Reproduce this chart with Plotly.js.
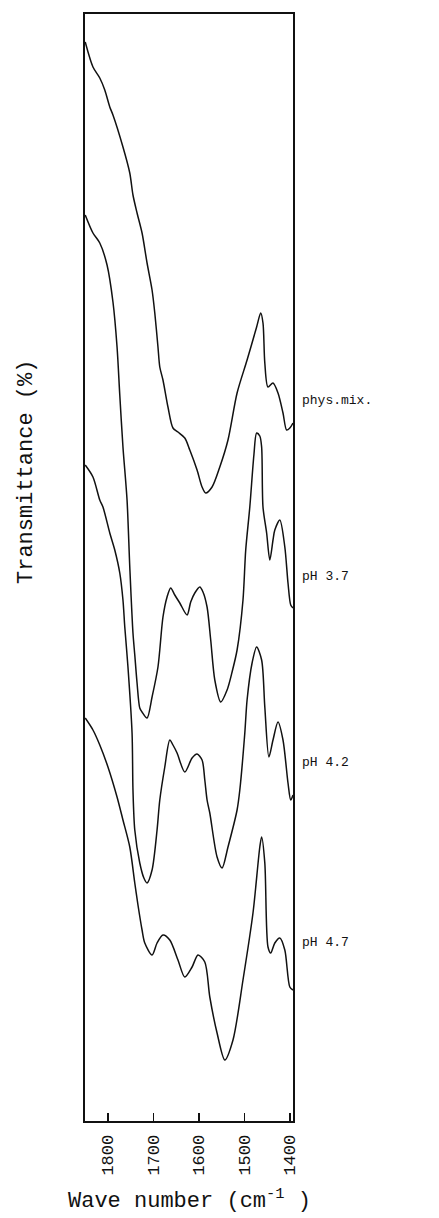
<!DOCTYPE html>
<html>
<head>
<meta charset="utf-8">
<script src="https://cdn.plot.ly/plotly-3.0.1.min.js"></script>
<style>html,body{margin:0;padding:0;background:#fff;}#chart{width:439px;height:1218px;}</style>
</head>
<body>
<div id="chart"></div>
<script>
// Wave numbers (cm^-1) and transmittance (arbitrary offset units)
const physWn = [1850,1833,1818,1807,1796,1789,1767,1752,1745,1736,1725,1714,1703,1697,1690,1686,1679,1668,1657,1646,1631,1620,1604,1593,1585,1571,1554,1536,1516,1494,1473,1464,1459,1455,1448,1437,1426,1415,1407,1400,1393];
const physT  = [107.9,105.4,104.3,103.1,101.4,100.6,97.4,94.8,92.6,90.8,88.8,85.8,83.1,80.8,77.4,75.4,74.1,71.4,69.3,68.9,68.3,67.1,65.1,63.4,62.8,63.4,65.4,68.1,72.8,76.1,79.4,80.8,79.8,75.8,73.4,73.8,72.8,70.8,69.1,69.3,69.8];

const ph37Wn = [1850,1833,1818,1802,1789,1780,1774,1767,1758,1752,1745,1741,1736,1730,1725,1714,1703,1690,1679,1670,1662,1653,1642,1626,1618,1609,1598,1591,1582,1574,1565,1552,1538,1527,1516,1503,1497,1488,1479,1473,1466,1462,1459,1451,1444,1437,1433,1422,1411,1404,1398,1393];
const ph37T  = [90.6,88.8,87.8,85.6,81.9,77.4,72.6,67.4,62.1,55.4,48.8,46.6,43.8,41.3,40.9,40.3,42.4,45.4,50.4,52.4,53.3,52.6,51.8,50.6,51.9,52.8,53.4,52.9,51.4,48.1,44.1,41.9,43.1,44.9,47.1,52.1,57.1,61.4,66.6,68.8,68.5,67.4,61.4,58.8,56.1,58.1,59.1,60.1,57.4,53.8,51.6,51.3];

const ph42Wn = [1850,1833,1818,1811,1796,1785,1774,1767,1763,1756,1747,1745,1741,1730,1721,1714,1703,1692,1686,1675,1664,1657,1648,1631,1615,1604,1593,1587,1582,1576,1560,1549,1536,1516,1510,1499,1494,1483,1473,1462,1455,1446,1437,1426,1415,1404,1398,1393];
const ph42T  = [65.6,64.4,62.1,61.4,58.8,57.1,54.8,52.1,49.4,45.4,38.8,33.1,29.1,25.8,24.3,23.8,25.1,29.1,32.1,35.4,38.1,37.6,36.8,34.9,36.3,36.7,36.1,34.1,32.1,30.8,26.4,25.3,27.4,31.1,33.1,38.8,42.1,45.8,47.4,46.1,41.4,36.4,38.1,39.9,38.1,33.8,32.1,32.6];

const ph47Wn = [1850,1833,1818,1800,1780,1767,1752,1741,1734,1725,1719,1703,1692,1679,1664,1646,1631,1615,1602,1587,1576,1560,1543,1525,1503,1481,1466,1462,1455,1448,1442,1433,1422,1411,1400,1393];
const ph47T  = [40.3,39.1,37.6,35.4,32.4,30.1,27.4,23.8,21.6,19.1,17.8,16.6,17.8,18.6,18.1,16.1,14.4,15.4,16.6,15.9,12.4,8.8,6.1,8.1,14.1,20.8,27.4,28.4,25.8,17.4,16.8,17.8,18.3,17.1,13.4,13.1];

const seriesNames = ["phys.mix.", "pH 3.7", "pH 4.2", "pH 4.7"];
const labelY = [72.1, 54.5, 35.9, 17.9];
const tickVals = [1800, 1700, 1600, 1500, 1400];
const xTitle = "Wave number (cm<sup>-1</sup> )";
const yTitle = "Transmittance (%)";

const allWn = [physWn, ph37Wn, ph42Wn, ph47Wn];
const allT = [physT, ph37T, ph42T, ph47T];

const mono = "Liberation Mono, Courier New, monospace";

const traces = allWn.map((wn, i) => ({
  x: wn, y: allT[i], name: seriesNames[i],
  type: "scatter", mode: "lines",
  line: {color: "#111", width: 1.5, shape: "spline", smoothing: 0.8},
  hoverinfo: "skip", showlegend: false
}));

const annotations = seriesNames.map((n, i) => ({
  text: n, xref: "paper", x: 1.034, xanchor: "left",
  yref: "y", y: labelY[i], yanchor: "middle",
  showarrow: false, font: {family: mono, size: 13, color: "#111"}
}));
// axis titles placed as annotations (pixel-offset from the plot frame)
annotations.push({
  text: xTitle, xref: "paper", x: 0.5, xanchor: "center",
  yref: "paper", y: 0, yshift: -78, yanchor: "middle",
  showarrow: false, font: {family: mono, size: 22, color: "#111"}
});
annotations.push({
  text: yTitle, textangle: -90, xref: "paper", x: 0, xshift: -59, xanchor: "center",
  yref: "y", y: 64.9, yanchor: "middle",
  showarrow: false, font: {family: mono, size: 22, color: "#111"}
});

const layout = {
  width: 439, height: 1218,
  margin: {l: 85, r: 146, t: 14, b: 97},
  paper_bgcolor: "#fff", plot_bgcolor: "#fff",
  showlegend: false,
  xaxis: {
    range: [1850.5, 1393], tickvals: tickVals, ticktext: tickVals.map(String),
    ticks: "inside", ticklen: 8, tickwidth: 1.5, tickcolor: "#111",
    tickangle: -90, ticklabelstandoff: 5, tickfont: {family: mono, size: 17, color: "#111"},
    showgrid: false, zeroline: false,
    showline: true, linecolor: "#111", linewidth: 2, mirror: true
  },
  yaxis: {
    range: [0, 110.7], showticklabels: false, ticks: "",
    showgrid: false, zeroline: false,
    showline: true, linecolor: "#111", linewidth: 2, mirror: true
  },
  annotations: annotations
};

Plotly.newPlot("chart", traces, layout, {displayModeBar: false, staticPlot: true});
</script>
</body>
</html>
